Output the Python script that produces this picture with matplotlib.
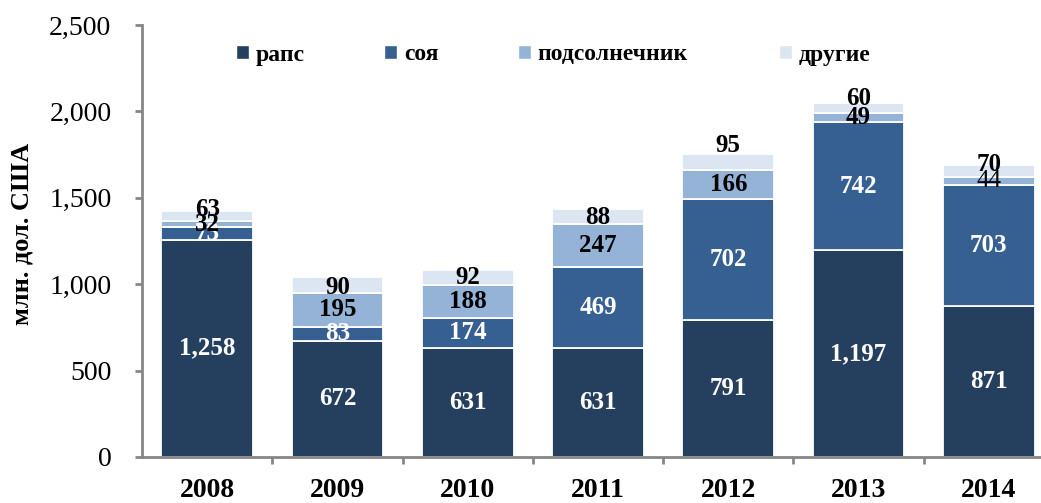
import numpy as np
import matplotlib.pyplot as plt
from matplotlib.patches import Patch
from matplotlib.ticker import FuncFormatter, MultipleLocator

# данные, млн. долл. США
years = ["2008", "2009", "2010", "2011", "2012", "2013", "2014"]
rapeseed = [1258, 672, 631, 631, 791, 1197, 871]
soy = [73, 83, 174, 469, 702, 742, 703]
sunflower = [32, 195, 188, 247, 166, 49, 44]
other = [63, 90, 92, 88, 95, 60, 70]

series_names = ["рапс", "соя", "подсолнечник", "другие"]
colors = ["#253F5F", "#366091", "#95B3D7", "#DCE6F2"]
label_colors = ["white", "white", "black", "black"]

# сдвиг подписей "другие" вверх, в пикселях
other_label_dy = [7, -2, 0, -1, 17, 10, 7]
# положение квадратиков легенды по x, в пикселях
legend_x = [242, 390, 524, 785]

plt.rcParams["font.family"] = ["Liberation Serif", "DejaVu Serif"]

fig = plt.figure(figsize=(10.41, 5.03), dpi=100)
ax = fig.add_axes([142 / 1041, 46 / 503, 912 / 1041, 432 / 503])

x = np.arange(len(years))
width = 0.705
stack = [rapeseed, soy, sunflower, other]
bottom = np.zeros(len(years))
for i, (vals, col) in enumerate(zip(stack, colors)):
    vals = np.array(vals, dtype=float)
    ax.bar(x, vals, width, bottom=bottom, color=col, edgecolor="white",
           linewidth=1.3, zorder=2)
    for j, v in enumerate(vals):
        yc = bottom[j] + v / 2
        dy = other_label_dy[j] if i == 3 else 0
        weight = "bold"
        if i == 2 and years[j] == "2014":
            weight = "normal"
        ax.annotate(f"{int(v):,}", (x[j], yc), xytext=(0, dy * 0.72),
                    textcoords="offset points", ha="center", va="center",
                    fontsize=18, fontweight=weight, color=label_colors[i],
                    zorder=3 + (i == 2))
    bottom += vals

ax.set_xlim(-0.5, len(years) - 0.5)
ax.set_ylim(0, 2500)
ax.yaxis.set_major_locator(MultipleLocator(500))
ax.yaxis.set_major_formatter(FuncFormatter(lambda v, p: f"{int(v):,}"))

ax.set_xticks(x)
ax.set_xticklabels(years, fontsize=20, fontweight="bold")
ax.set_xticks(np.arange(len(years)) + 0.5, minor=True)
ax.tick_params(axis="x", which="major", length=0, pad=15)
ax.tick_params(axis="x", which="minor", length=5, width=2, color="#868686",
               direction="out")
ax.tick_params(axis="y", length=5, width=2, color="#868686", labelsize=20,
               pad=17)

for s in ["top", "right"]:
    ax.spines[s].set_visible(False)
for s in ["left", "bottom"]:
    ax.spines[s].set_color("#868686")
    ax.spines[s].set_linewidth(2)

fig.text(22 / 1041, 1 - 234 / 503, "млн. дол. США", rotation=90,
         ha="center", va="center", fontsize=19, fontweight="bold")

for name, col, lx in zip(series_names, colors, legend_x):
    fig.legend([Patch(facecolor=col, edgecolor="white")], [name],
               loc="center left", bbox_to_anchor=(lx / 1041 - 0.006, 1 - 55 / 503),
               frameon=False, borderpad=0, borderaxespad=0,
               handlelength=0.55, handleheight=0.55, handletextpad=0.3,
               prop={"size": 17, "weight": "bold"})

fig.savefig("out.png", dpi=100)
